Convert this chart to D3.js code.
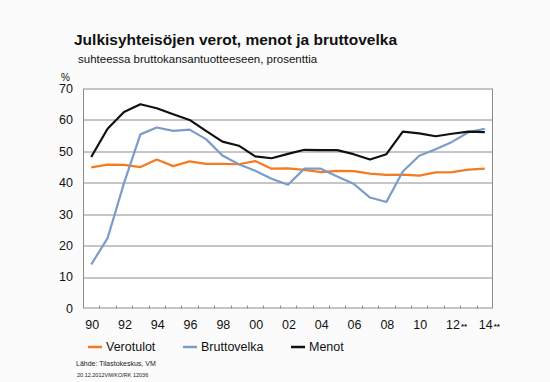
<!DOCTYPE html>
<html>
<head>
<meta charset="utf-8">
<script src="https://cdn.jsdelivr.net/npm/d3@7"></script>
<style>
  body { margin: 0; background: #fbfbfb; font-family: Arial, 'Liberation Sans', sans-serif; }
  svg { display: block; }
  .grid line { stroke: #8c8c8c; stroke-width: 1; }
  .line { fill: none; stroke-width: 2.2; stroke-linejoin: round; }
</style>
</head>
<body>
<div id="wrapper"></div>
<script>
// data
const years = d3.range(1990, 2015)
const verotulot = [44.9, 45.8, 45.7, 45.0, 47.4, 45.3, 46.8, 46.0, 46.0, 45.9, 46.9, 44.5, 44.6,
  44.1, 43.4, 43.8, 43.7, 42.9, 42.5, 42.6, 42.3, 43.3, 43.4, 44.2, 44.5]
const bruttovelka = [14.0, 22.4, 39.9, 55.4, 57.6, 56.5, 56.9, 53.9, 48.7, 45.9, 43.8, 41.3, 39.4,
  44.5, 44.5, 42.0, 39.7, 35.3, 33.9, 43.6, 48.6, 50.7, 53.0, 56.1, 57.2]
const menot = [48.2, 57.2, 62.5, 65.0, 63.7, 61.8, 60.0, 56.5, 53.1, 51.8, 48.4, 47.8, 49.2,
  50.5, 50.4, 50.4, 49.1, 47.4, 49.1, 56.3, 55.7, 54.8, 55.6, 56.3, 56.1]
const yTicks = [0, 10, 20, 30, 40, 50, 60, 70]
const xLabelYears = [1990, 1992, 1994, 1996, 1998, 2000, 2002, 2004, 2006, 2008, 2010, 2012, 2014]
const starred = [2012, 2014]

const series = [
  {name: 'Verotulot', values: verotulot, color: '#f47b20'},
  {name: 'Bruttovelka', values: bruttovelka, color: '#7b9cc8'},
  {name: 'Menot', values: menot, color: '#111111'}
]

const width = 550
const height = 382
const margin = {top: 88.5, right: 57, bottom: 73.5, left: 83}
const boundedWidth = width - margin.left - margin.right
const boundedHeight = height - margin.top - margin.bottom

const svg = d3.select('#wrapper').append('svg')
  .attr('width', width)
  .attr('height', height)

// titles
svg.append('text')
  .attr('x', 74).attr('y', 45)
  .style('font-size', '15.5px').style('font-weight', 'bold').style('fill', '#111')
  .text('Julkisyhteisöjen verot, menot ja bruttovelka')
svg.append('text')
  .attr('x', 78).attr('y', 63)
  .style('font-size', '11.5px').style('fill', '#111')
  .text('suhteessa bruttokansantuotteeseen, prosenttia')
svg.append('text')
  .attr('x', 61).attr('y', 81)
  .style('font-size', '10px').style('fill', '#111')
  .text('%')

const bounds = svg.append('g')
  .attr('transform', `translate(${margin.left}, ${margin.top})`)

// scales
const xScale = d3.scaleBand()
  .domain(years)
  .range([0, boundedWidth])
const yScale = d3.scaleLinear()
  .domain([0, 70])
  .range([boundedHeight, 0])

bounds.append('rect')
  .attr('width', boundedWidth).attr('height', boundedHeight)
  .attr('fill', '#fff')

// gridlines
bounds.append('g').attr('class', 'grid')
  .selectAll('line')
  .data(yTicks.filter(d => d > 0 && d < 70))
  .join('line')
    .attr('x1', 0).attr('x2', boundedWidth)
    .attr('y1', d => Math.round(yScale(d)) + 0.5)
    .attr('y2', d => Math.round(yScale(d)) + 0.5)

// frame
bounds.append('rect')
  .attr('x', 0.5).attr('y', 0.5)
  .attr('width', boundedWidth - 1).attr('height', boundedHeight - 1)
  .attr('fill', 'none').attr('stroke', '#8c8c8c')

// x ticks at band edges, pointing inward
bounds.append('g')
  .selectAll('line')
  .data(years.slice(1))
  .join('line')
    .attr('x1', d => Math.round(xScale(d)) + 0.5)
    .attr('x2', d => Math.round(xScale(d)) + 0.5)
    .attr('y1', boundedHeight - 3).attr('y2', boundedHeight)
    .attr('stroke', '#8c8c8c')

// y labels
bounds.append('g')
  .selectAll('text')
  .data(yTicks)
  .join('text')
    .attr('x', -10)
    .attr('y', d => yScale(d))
    .attr('dy', '0.35em')
    .attr('text-anchor', 'end')
    .style('font-size', '12.5px').style('fill', '#111')
    .text(d => d)

// x labels
const xLabels = bounds.append('g')
  .selectAll('text')
  .data(xLabelYears)
  .join('text')
    .attr('x', d => xScale(d) + xScale.bandwidth() / 2 - 6)
    .attr('y', boundedHeight + 20)
    .style('font-size', '12.5px').style('fill', '#111')
xLabels.append('tspan').text(d => String(d).slice(2))
xLabels.filter(d => starred.includes(d))
  .append('tspan')
    .attr('dx', 1)
    .style('font-size', '8px')
    .style('font-weight', 'bold')
    .text('**')

// lines
const lineGenerator = d3.line()
  .x((d, i) => xScale(years[i]) + xScale.bandwidth() / 2)
  .y(d => yScale(d))

bounds.selectAll('.line')
  .data(series)
  .join('path')
    .attr('class', 'line')
    .attr('stroke', d => d.color)
    .attr('d', d => lineGenerator(d.values))

// legend
const legendX = [88, 183, 291]
const legend = svg.append('g')
  .selectAll('g')
  .data(series)
  .join('g')
    .attr('transform', (d, i) => `translate(${legendX[i]}, 347)`)
legend.append('line')
  .attr('x1', 0).attr('x2', 14)
  .attr('stroke', d => d.color).attr('stroke-width', 2.5)
legend.append('text')
  .attr('x', 18).attr('dy', '0.35em')
  .style('font-size', '12.5px').style('fill', '#111')
  .text(d => d.name)

// source
svg.append('text')
  .attr('x', 76).attr('y', 366)
  .style('font-size', '7px').style('fill', '#222')
  .text('Lähde: Tilastokeskus, VM')
svg.append('text')
  .attr('x', 77).attr('y', 377)
  .style('font-size', '5.5px').style('fill', '#222')
  .text('20.12.2012VM/KO/RK  12036')
</script>
</body>
</html>
